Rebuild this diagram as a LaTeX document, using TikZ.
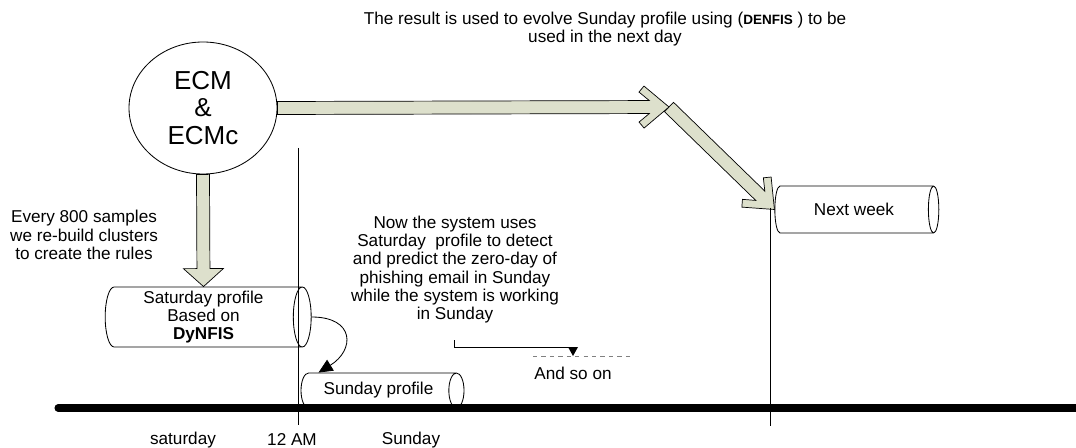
\documentclass[tikz,border=0pt]{standalone}
\usepackage{fontspec}
\setmainfont{Liberation Sans}
\usetikzlibrary{shapes.geometric, arrows.meta, positioning, calc}
\definecolor{arrowfill}{RGB}{221,224,204}
\newcommand{\pxu}{0.25mm}
\tikzstyle{profile} = [cylinder, draw=black, fill=white, align=center, inner sep=0pt, line width=0.6pt, font=\fontsize{12.2}{13}\selectfont]
\tikzstyle{note} = [align=center, font=\fontsize{12.2}{13}\selectfont]
\tikzstyle{fat} = [draw=black, fill=arrowfill, line width=0.5pt, line join=miter]
% fat arrow with a chevron head
\newcommand{\chevarrow}[2]{%
  \filldraw[fat] ($(#1)!6.5*\pxu!-90:(#2)$) -- ($(#2)!19.7*\pxu!(#1)!6.5*\pxu!-90:(#2)$)
    -- ($(#2)!30*\pxu!(#1)!15*\pxu!-90:(#2)$) -- ($(#2)!25*\pxu!(#1)!21*\pxu!-90:(#2)$)
    -- (#2) -- ($(#2)!25*\pxu!(#1)!21*\pxu!90:(#2)$) -- ($(#2)!30*\pxu!(#1)!15*\pxu!90:(#2)$)
    -- ($(#2)!19.7*\pxu!(#1)!6.5*\pxu!90:(#2)$) -- ($(#1)!6.5*\pxu!90:(#2)$) -- cycle;}
% fat arrow with a plain head
\newcommand{\blockarrow}[2]{%
  \filldraw[fat] ($(#1)!6.5*\pxu!-90:(#2)$) -- ($(#2)!18*\pxu!(#1)!6.5*\pxu!-90:(#2)$)
    -- ($(#2)!18*\pxu!(#1)!20*\pxu!-90:(#2)$) -- (#2) -- ($(#2)!18*\pxu!(#1)!20*\pxu!90:(#2)$)
    -- ($(#2)!18*\pxu!(#1)!6.5*\pxu!90:(#2)$) -- ($(#1)!6.5*\pxu!90:(#2)$) -- cycle;}

\begin{document}
\begin{tikzpicture}[x=\pxu, y=-\pxu,
    marker/.style={line width=0.6pt},
    arrow/.style={line width=0.6pt, -{Triangle[length=10pt, width=9pt]}}
]
\useasboundingbox (0,0) rectangle (1076,448);

% Nodes
\node (ecm) [ellipse, draw, line width=0.6pt, minimum width=37mm, minimum height=33mm, inner sep=0pt, align=center, font=\fontsize{18.5}{19.3}\selectfont] at (203,108) {ECM\\\&\\ECMc};
\node (sat) [profile, aspect=0.34, minimum height=51.5mm, minimum width=15mm] at (203.5,317) {Saturday profile\\Based on\\\textbf{DyNFIS}};
\node (sun) [profile, aspect=0.95, minimum height=40.75mm, minimum width=8.75mm] at (378.5,390.5) {Sunday profile};
\node (next) [profile, aspect=0.83, minimum height=41mm, minimum width=11.75mm] at (854,209.5) {Next week};

\node (result) [note] at (605,29) {The result is used to evolve Sunday profile using (\textbf{\fontsize{9.6}{13}\selectfont DENFIS} ) to be\\used in the next day};
\node (rules) [note] at (84,235) {Every 800 samples\\we re-build clusters\\to create the rules};
\node (now) [note] at (455,269.5) {Now the system uses\\Saturday~ profile to detect\\and predict the zero-day of\\phishing email in Sunday\\while the system is working\\in Sunday};
\node (soon) [note] at (573,373) {And so on};
\node (lsat) [note] at (183,440) {saturday};
\node (lam) [note] at (292,440) {12 AM};
\node (lsun) [note] at (411,440) {Sunday};

\coordinate (bend) at (669,107);
\coordinate (step) at (573,347);

% Arrows
\blockarrow{ecm.south}{sat.north}
\chevarrow{ecm.east}{bend}
\chevarrow{bend}{next.west}
\draw [arrow] (sat.east) .. controls (355,317) and (355,350) .. ([xshift=-15mm]sun.north);
\draw [marker] (454,340) |- (step);
\fill (568,347) -- (578,347) -- (573,356) -- cycle;
\draw [gray, dashed, line width=0.5pt] (533,356) -- (632,356);

% time line
\draw [marker] (298,148) -- (298,425);
\draw [marker] (770,208) -- (770,426);
\draw [line width=5pt, line cap=round] (58,408) -- (1080,408);

\end{tikzpicture}
\end{document}
